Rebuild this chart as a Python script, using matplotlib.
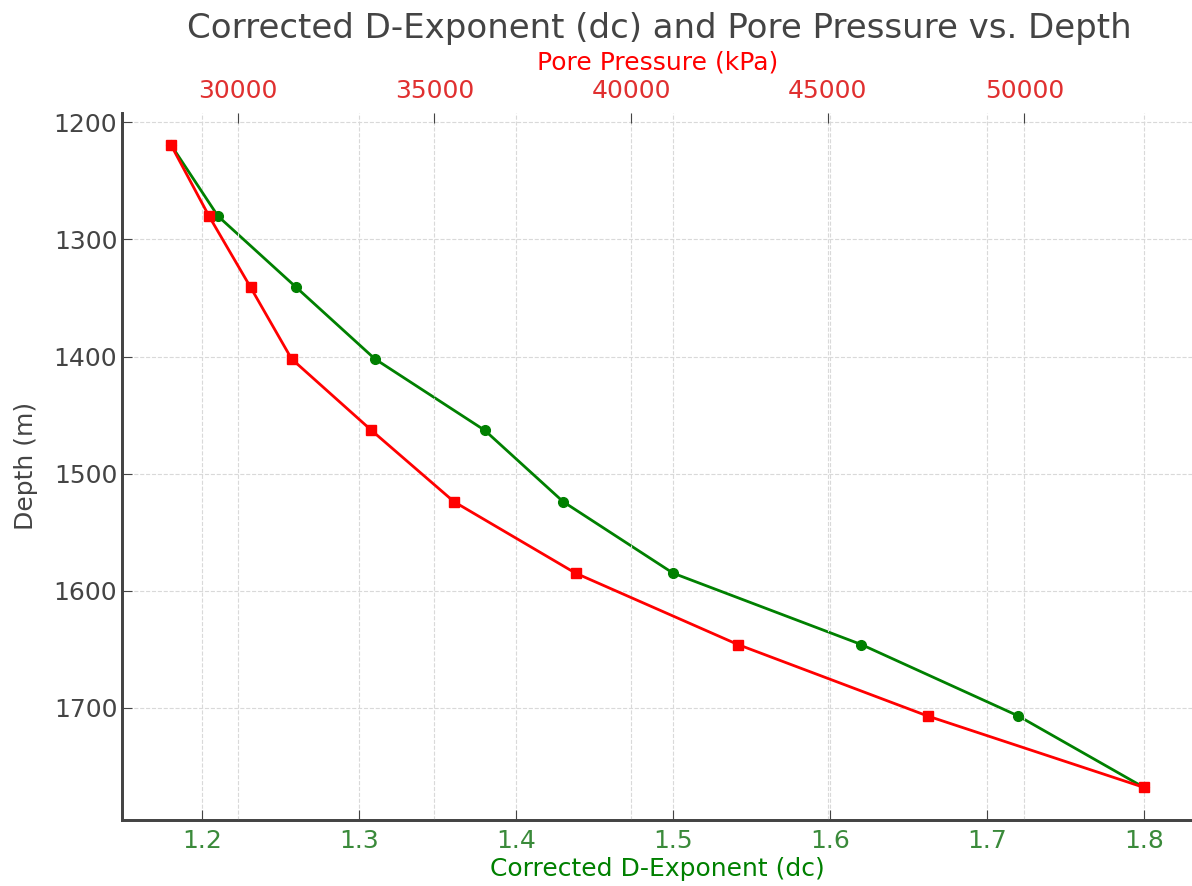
import matplotlib
matplotlib.use("Agg")
import matplotlib.pyplot as plt

# Dados
profundidade = [1219, 1280, 1341, 1402, 1463, 1524, 1585, 1646, 1707, 1768]
dc = [1.18, 1.21, 1.26, 1.31, 1.38, 1.43, 1.50, 1.62, 1.72, 1.80]
pressao_poros = [28300, 29270, 30330, 31370, 33400, 35500, 38590, 42720, 47540, 53040]

cinza = '#444444'

fig = plt.figure(figsize=(11.92, 8.86), dpi=100)
ax = fig.add_axes([0.1025, 0.075, 0.898, 0.798])

# dc no eixo inferior
ax.plot(dc, profundidade, color='green', marker='o', markersize=7, linewidth=2)
ax.set_xlabel("Corrected D-Exponent (dc)", color='green', fontsize=18, labelpad=3)
ax.set_ylabel("Depth (m)", color=cinza, fontsize=18, labelpad=11)
ax.tick_params(axis='x', labelcolor='#3a8a3a', color=cinza, labelsize=18,
               direction='in', length=7, pad=7)
ax.tick_params(axis='y', labelcolor=cinza, color=cinza, labelsize=18,
               direction='in', length=7)
ax.invert_yaxis()
ax.grid(True, color='#d9d9d9', linestyle='--', linewidth=0.8)

# pressão de poros no eixo superior
ax2 = ax.twiny()
ax2.plot(pressao_poros, profundidade, color='red', marker='s', markersize=7, linewidth=2)
ax2.set_xlabel("Pore Pressure (kPa)", color='red', fontsize=18, labelpad=7)
ax2.tick_params(axis='x', labelcolor='#e03030', color=cinza, labelsize=18,
                direction='in', length=7, pad=7)
ax2.grid(True, axis='x', color='#d9d9d9', linestyle='--', linewidth=0.8)

for a in (ax, ax2):
    a.spines['top'].set_visible(False)
    a.spines['right'].set_visible(False)
    a.spines['left'].set_color(cinza)
    a.spines['bottom'].set_color(cinza)
    a.spines['left'].set_linewidth(2)
    a.spines['bottom'].set_linewidth(2)

fig.suptitle("Corrected D-Exponent (dc) and Pore Pressure vs. Depth",
             color=cinza, fontsize=24.5, x=0.553, y=0.986)

fig.savefig("out.png", dpi=100)
